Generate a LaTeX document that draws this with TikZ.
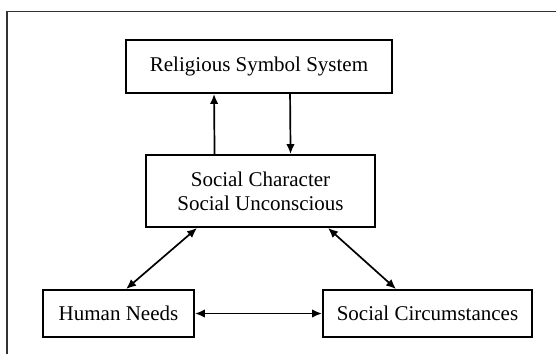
\documentclass[tikz,border=0pt]{standalone}
\usepackage{fontspec}
\setmainfont{Liberation Serif}
\usetikzlibrary{arrows.meta}
\begin{document}
\begin{tikzpicture}[x=1pt,y=-1pt,
  box/.style={draw,line width=1.9pt,rectangle,inner sep=0pt,font=\fontsize{21}{24}\selectfont,align=center},
  conn/.style={line width=1.7pt,{Latex[length=10pt,width=8.5pt]}-{Latex[length=10pt,width=8.5pt]}},
  one/.style={line width=1.7pt,-{Latex[length=10pt,width=8.5pt]}}]
\useasboundingbox (0,0) rectangle (556,354);
\draw[line width=1.3pt,black!80] (7,354) -- (7,11.5) -- (556,11.5);
\node[box,minimum width=266pt,minimum height=53pt] (rel) at (259,66.5) {Religious Symbol System};
\node[box,minimum width=229pt,minimum height=72pt] (soc) at (260.5,191) {Social Character\\Social Unconscious};
\node[box,minimum width=151pt,minimum height=47pt] (hn) at (118.5,313.5) {Human Needs};
\node[box,minimum width=209pt,minimum height=47pt] (sc) at (427.5,313.5) {Social Circumstances};
\draw[one] ([xshift=69.5pt]soc.north west) -- ([xshift=89pt]rel.south west);
\draw[one] ([xshift=165pt]rel.south west) -- ([xshift=145.5pt]soc.north west);
\draw[conn] ([xshift=52pt]soc.south west) -- ([xshift=84pt]hn.north west);
\draw[conn] ([xshift=-48pt]soc.south east) -- ([xshift=74pt]sc.north west);
\draw[conn] (hn.east) -- (sc.west);
\end{tikzpicture}
\end{document}
